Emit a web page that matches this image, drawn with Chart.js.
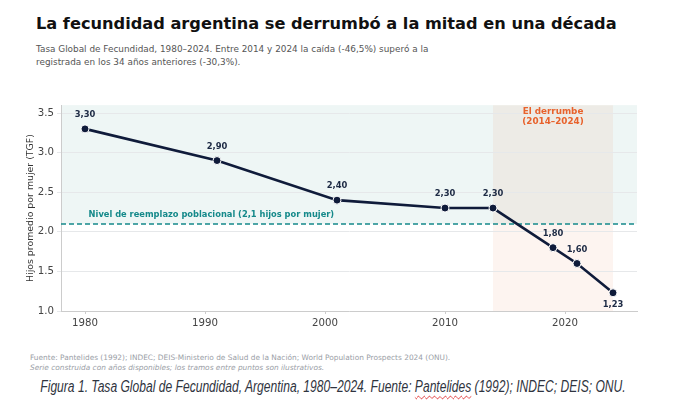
<!DOCTYPE html>
<html lang="es">
<head>
<meta charset="UTF-8">
<title>Fecundidad Argentina</title>
<script src="https://cdn.jsdelivr.net/npm/chart.js"></script>
<style>
  html, body { margin: 0; padding: 0; background: #fff; }
  body { width: 690px; height: 406px; position: relative; overflow: hidden; font-family: "DejaVu Sans", sans-serif; }
  .titulo { position: absolute; left: 36px; top: 14px; font-size: 16.2px; line-height: 19px; font-weight: bold; color: #111; white-space: nowrap; }
  .subtitulo { position: absolute; left: 36px; top: 43px; font-size: 8.9px; line-height: 13px; color: #555; white-space: nowrap; }
  .grafico { position: absolute; left: 20px; top: 96px; width: 625px; height: 240px; }
  .fuente { position: absolute; left: 30px; top: 353px; font-size: 7.4px; line-height: 10px; color: #9a9ea6; white-space: nowrap; }
  .fuente i { display: block; }
  .pie { position: absolute; left: 333px; top: 377px; white-space: nowrap; transform: translateX(-50%) scaleX(0.755); font-family: "Liberation Sans", sans-serif; font-style: italic; font-size: 16px; line-height: 20px; color: #2f3440; }
  .pie u { text-decoration: underline wavy #d33; text-decoration-thickness: 1px; text-underline-offset: 3px; }
</style>
</head>
<body>

<div class="titulo">La fecundidad argentina se derrumbó a la mitad en una década</div>
<div class="subtitulo">Tasa Global de Fecundidad, 1980–2024. Entre 2014 y 2024 la caída (-46,5%) superó a la<br>registrada en los 34 años anteriores (-30,3%).</div>

<div class="grafico"><canvas id="chartTGF"></canvas></div>

<div class="fuente">Fuente: Pantelides (1992); INDEC; DEIS-Ministerio de Salud de la Nación; World Population Prospects 2024 (ONU).<i>Serie construida con años disponibles; los tramos entre puntos son ilustrativos.</i></div>

<div class="pie">Figura 1. Tasa Global de Fecundidad, Argentina, 1980–2024. Fuente: <u>Pantelides</u> (1992); INDEC; DEIS; ONU.</div>

<script>
    // datos
    var anios = [1980, 1991, 2001, 2010, 2014, 2019, 2021, 2024];
    var tgf = [3.30, 2.90, 2.40, 2.30, 2.30, 1.80, 1.60, 1.23];
    var etiquetas = ['3,30', '2,90', '2,40', '2,30', '2,30', '1,80', '1,60', '1,23'];
    var ticksX = [1980, 1990, 2000, 2010, 2020];
    var ticksY = [1.0, 1.5, 2.0, 2.5, 3.0, 3.5];
    var reemplazo = 2.1;
    var derrumbe = [2014, 2024];

    var navy = '#0f1b3a';
    var teal = '#14898a';
    var naranja = '#e8622c';

    // fondos, linea de reemplazo y textos
    const decoracion = {
        id: 'decoracion',
        beforeDraw(chart) {
            const { ctx, chartArea: a, scales: { x, y } } = chart;
            ctx.save();
            const yr = y.getPixelForValue(reemplazo);
            ctx.fillStyle = '#eef6f5';
            ctx.fillRect(a.left, a.top, a.right - a.left, yr - a.top);
            const x1 = x.getPixelForValue(derrumbe[0]);
            const x2 = x.getPixelForValue(derrumbe[1]);
            ctx.fillStyle = 'rgba(232, 98, 44, 0.07)';
            ctx.fillRect(x1, a.top, x2 - x1, a.bottom - a.top);
            ctx.restore();
        },
        beforeDatasetsDraw(chart) {
            const { ctx, chartArea: a, scales: { x, y } } = chart;
            ctx.save();
            const yr = y.getPixelForValue(reemplazo);
            ctx.strokeStyle = teal;
            ctx.lineWidth = 1.5;
            ctx.setLineDash([5, 3]);
            ctx.beginPath();
            ctx.moveTo(a.left, yr);
            ctx.lineTo(a.right, yr);
            ctx.stroke();
            ctx.setLineDash([]);
            ctx.fillStyle = teal;
            ctx.font = 'bold 8.3px "DejaVu Sans"';
            ctx.textAlign = 'left';
            ctx.textBaseline = 'middle';
            ctx.fillText('Nivel de reemplazo poblacional (2,1 hijos por mujer)', x.getPixelForValue(1980.3), yr - 9);

            const xm = (x.getPixelForValue(derrumbe[0]) + x.getPixelForValue(derrumbe[1])) / 2;
            ctx.fillStyle = naranja;
            ctx.font = 'bold 8.8px "DejaVu Sans"';
            ctx.textAlign = 'center';
            ctx.fillText('El derrumbe', xm, a.top + 7);
            ctx.fillText('(2014–2024)', xm, a.top + 17);
            ctx.restore();
        },
        afterDatasetsDraw(chart) {
            const { ctx } = chart;
            const meta = chart.getDatasetMeta(0);
            ctx.save();
            ctx.fillStyle = '#1d2a44';
            ctx.font = 'bold 8.4px "DejaVu Sans"';
            ctx.textAlign = 'center';
            ctx.textBaseline = 'middle';
            meta.data.forEach((p, i) => {
                const abajo = i === meta.data.length - 1;
                ctx.fillText(etiquetas[i], p.x, abajo ? p.y + 12 : p.y - 14);
            });
            ctx.restore();
        }
    };

    const ctx = document.getElementById('chartTGF');

    new Chart(ctx, {
        type: 'line',
        data: {
            datasets: [{
                data: anios.map((a, i) => ({ x: a, y: tgf[i] })),
                borderColor: navy,
                borderWidth: 2.6,
                pointRadius: 4,
                pointBackgroundColor: navy,
                pointBorderColor: '#ffffff',
                pointBorderWidth: 1,
                tension: 0
            }]
        },
        options: {
            responsive: true,
            maintainAspectRatio: false,
            animation: false,
            layout: { padding: { top: 8, right: 8, left: 0, bottom: 0 } },
            plugins: {
                legend: { display: false },
                tooltip: { enabled: false }
            },
            scales: {
                x: {
                    type: 'linear',
                    min: 1978,
                    max: 2026,
                    afterBuildTicks: s => { s.ticks = ticksX.map(v => ({ value: v })); },
                    afterFit: s => { s.height = 25; },
                    ticks: {
                        callback: v => String(v),
                        color: '#444',
                        font: { family: 'DejaVu Sans', size: 10.2 },
                        padding: 3
                    },
                    grid: { drawOnChartArea: false, tickLength: 3, color: '#cccccc' },
                    border: { color: '#cccccc' }
                },
                y: {
                    min: 1.0,
                    max: 3.6,
                    afterBuildTicks: s => { s.ticks = ticksY.map(v => ({ value: v })); },
                    afterFit: s => { s.width = 41; },
                    ticks: {
                        callback: v => v.toFixed(1),
                        color: '#444',
                        font: { family: 'DejaVu Sans', size: 10.2 },
                        padding: 3
                    },
                    grid: { color: '#e6e8ea', tickLength: 4 },
                    border: { color: '#cccccc' },
                    title: {
                        display: true,
                        text: 'Hijos promedio por mujer (TGF)',
                        color: '#333',
                        font: { family: 'DejaVu Sans', size: 9.4 },
                        padding: { top: 5, bottom: 0 }
                    }
                }
            }
        },
        plugins: [decoracion]
    });
</script>
</body>
</html>
